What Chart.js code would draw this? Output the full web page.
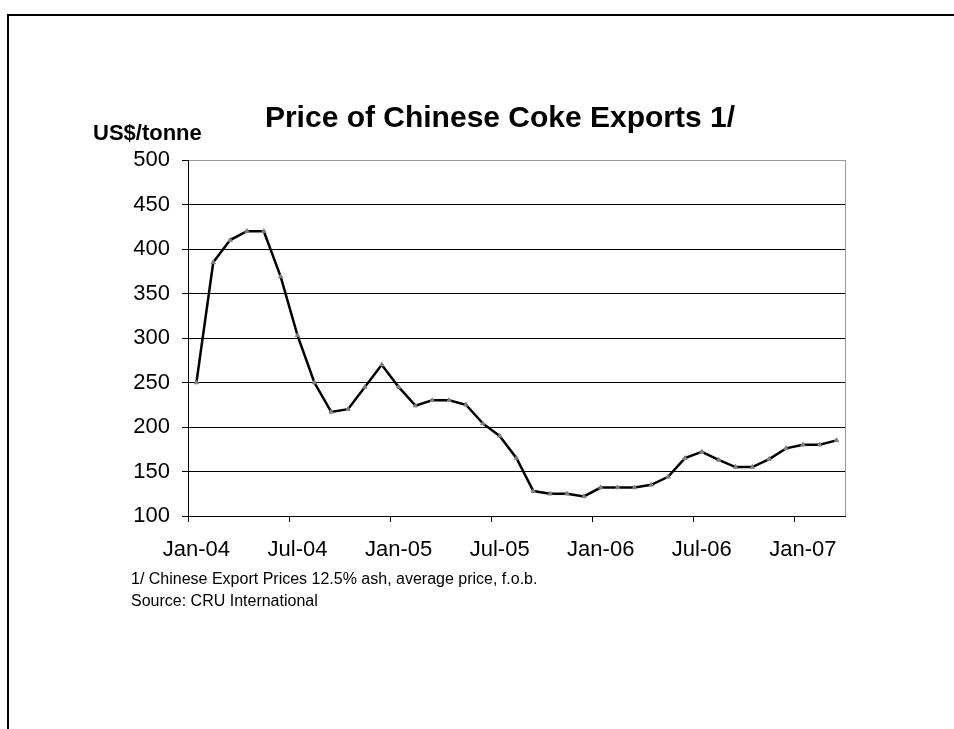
<!DOCTYPE html>
<html>
<head>
<meta charset="utf-8">
<script src="https://cdn.jsdelivr.net/npm/chart.js@4"></script>
<style>
  html, body { margin: 0; padding: 0; background: #fff; }
  #wrap { position: relative; width: 954px; height: 729px; }
  #frame { position: absolute; left: 7px; top: 14px; right: 0; bottom: 0;
           border-top: 2px solid #000; border-left: 2px solid #000; pointer-events: none; }
</style>
</head>
<body>
<div id="wrap">
  <canvas id="chart_cokePrice"></canvas>
  <div id="frame"></div>
</div>
<script>
// monthly, Jan-04 .. Mar-07
const months = [
  'Jan-04','Feb-04','Mar-04','Apr-04','May-04','Jun-04','Jul-04','Aug-04','Sep-04','Oct-04','Nov-04','Dec-04',
  'Jan-05','Feb-05','Mar-05','Apr-05','May-05','Jun-05','Jul-05','Aug-05','Sep-05','Oct-05','Nov-05','Dec-05',
  'Jan-06','Feb-06','Mar-06','Apr-06','May-06','Jun-06','Jul-06','Aug-06','Sep-06','Oct-06','Nov-06','Dec-06',
  'Jan-07','Feb-07','Mar-07'
];
const prices = [
  250, 385, 410, 420, 420, 369, 303, 250, 217, 220, 245, 270,
  245, 224, 230, 230, 225, 204, 190, 165, 128, 125, 125, 122,
  132, 132, 132, 135, 144, 165, 172, 163, 155, 155, 164, 176,
  180, 180, 185
];
const yTicks = [100, 150, 200, 250, 300, 350, 400, 450, 500];
const labelEvery = 6;

const titleText = 'Price of Chinese Coke Exports 1/';
const unitText = 'US$/tonne';
const notes = ['1/ Chinese Export Prices 12.5% ash, average price, f.o.b.', 'Source: CRU International'];

const FONT = '"Liberation Sans", Arial, sans-serif';

var chart_cokePrice = new Chart(document.getElementById('chart_cokePrice'), {
    type: 'line',
    data: {
        labels: months,
        datasets: [{
            label: 'Price',
            data: prices,
            borderColor: '#000',
            borderWidth: 2.5,
            tension: 0,
            pointStyle: 'triangle',
            pointRadius: 2.5,
            pointBackgroundColor: '#808080',
            pointBorderColor: '#808080',
            pointBorderWidth: 1
        }]
    },
    options: {
        animation: false,
        responsive: true,
        maintainAspectRatio: false,
        events: [],
        layout: { padding: { left: 0, right: 109, top: 160, bottom: 0 } },
        plugins: {
            legend: { display: false },
            title: { display: false },
            tooltip: { enabled: false }
        },
        scales: {
            x: {
                type: 'category',
                offset: true,
                grid: {
                    offset: true,
                    drawOnChartArea: false,
                    tickLength: 6,
                    tickColor: (c) => (c.index % labelEvery === 0 ? '#000' : 'rgba(0,0,0,0)')
                },
                border: { color: '#000', width: 1 },
                ticks: {
                    autoSkip: false,
                    maxRotation: 0,
                    padding: 15,
                    color: '#000',
                    font: { family: FONT, size: 22 },
                    callback: (v, i) => (i % labelEvery === 0 ? months[i] : '')
                },
                afterFit: (s) => { s.height = 213; }
            },
            y: {
                min: 100,
                max: 500,
                afterBuildTicks: (s) => { s.ticks = yTicks.map(v => ({ value: v })); },
                grid: {
                    color: (c) => (c.tick && c.tick.value === 500 ? '#999' : '#000'),
                    lineWidth: 1,
                    tickLength: 6,
                    tickColor: '#000'
                },
                border: { color: '#000', width: 1 },
                ticks: {
                    padding: 12,
                    color: '#000',
                    font: { family: FONT, size: 22 }
                },
                afterFit: (s) => { s.width = 188; }
            }
        }
    },
    plugins: [{
        id: 'customPlugin',
        beforeDraw: (chart) => {
            const ctx = chart.ctx;
            ctx.save();
            ctx.fillStyle = 'white';
            ctx.fillRect(0, 0, chart.width, chart.height);
            ctx.restore();
        },
        afterDraw: (chart) => {
            const ctx = chart.ctx;
            const a = chart.chartArea;
            ctx.save();
            // right edge of the plot box
            ctx.strokeStyle = '#999';
            ctx.lineWidth = 1;
            ctx.beginPath();
            ctx.moveTo(Math.round(a.right) + 0.5, a.top);
            ctx.lineTo(Math.round(a.right) + 0.5, a.bottom);
            ctx.stroke();

            ctx.fillStyle = '#000';
            ctx.textBaseline = 'alphabetic';
            ctx.textAlign = 'center';
            ctx.font = 'bold 30px ' + FONT;
            ctx.fillText(titleText, 500, 127);

            ctx.textAlign = 'left';
            ctx.font = 'bold 22px ' + FONT;
            ctx.fillText(unitText, 93, 140);

            ctx.font = '16px ' + FONT;
            ctx.fillText(notes[0], 131, 584);
            ctx.fillText(notes[1], 131, 606);
            ctx.restore();
        }
    }]
});
</script>
</body>
</html>
